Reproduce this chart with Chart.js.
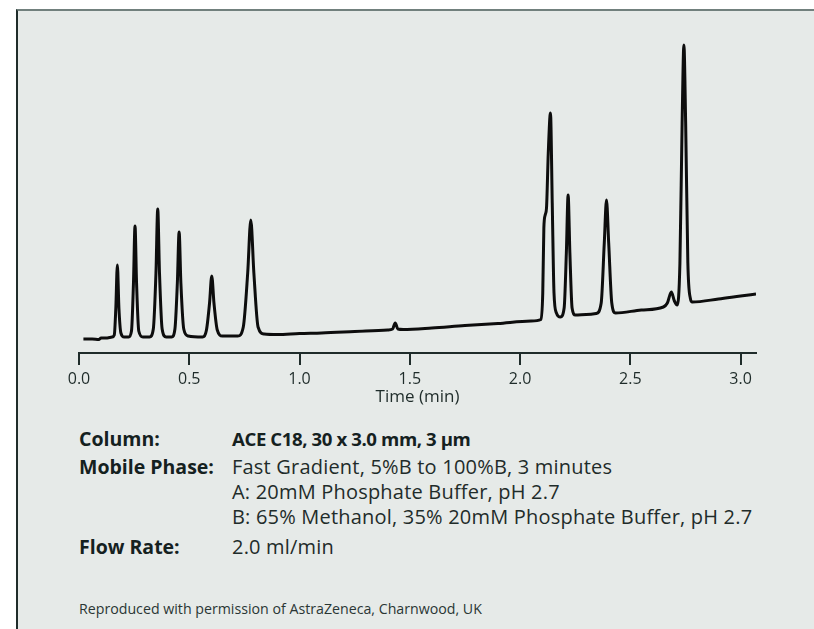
<!DOCTYPE html>
<html>
<head>
<meta charset="utf-8">
<script src="https://cdn.jsdelivr.net/npm/chart.js@4.4.0/dist/chart.umd.min.js"></script>
<style>
  html, body { margin: 0; padding: 0; background: #fff; }
  body { width: 814px; height: 629px; position: relative; overflow: hidden; font-family: "Open Sans", sans-serif; color: #1f2c2a; }
  #panel { position: absolute; left: 16px; top: 9px; right: 0; bottom: 0; background: #e6eae8;
           border-top: 2px solid #71807d; border-left: 2px solid #1f2c2a; }
  #chartBox { position: absolute; left: 0; top: 0; width: 814px; height: 413px; }
  .row { position: absolute; left: 79px; font-size: 20px; line-height: 25px; white-space: nowrap; letter-spacing: 0.2px; }
  .row b { position: absolute; left: 0; font-size: 19.5px; font-weight: 700; color: #15211f; letter-spacing: 0; }
  .row span { position: absolute; left: 153px; }
  .row span.val { font-size: 18.6px; font-weight: 700; color: #15211f; letter-spacing: -0.4px; }
  .note { position: absolute; left: 79px; top: 599px; font-size: 14.2px; white-space: nowrap; color: #2a3634; }
</style>
</head>
<body>
<div id="panel"></div>
<div id="chartBox"><canvas id="chrom" width="814" height="413"></canvas></div>

<div class="row" style="top:426px"><b>Column:</b><span class="val">ACE C18, 30 x 3.0 mm, 3 µm</span></div>
<div class="row" style="top:454px"><b>Mobile Phase:</b><span>Fast Gradient, 5%B to 100%B, 3 minutes</span></div>
<div class="row" style="top:479px"><span>A: 20mM Phosphate Buffer, pH 2.7</span></div>
<div class="row" style="top:504px"><span>B: 65% Methanol, 35% 20mM Phosphate Buffer, pH 2.7</span></div>
<div class="row" style="top:534px"><b>Flow Rate:</b><span>2.0 ml/min</span></div>
<div class="note">Reproduced with permission of AstraZeneca, Charnwood, UK</div>

<script>
// retention time (min) and detector signal
const times = [
  0.02, 0.06, 0.09, 0.10, 0.12, 0.15,
  0.160, 0.167, 0.174, 0.181, 0.190, 0.205,
  0.225, 0.238, 0.247, 0.254, 0.261, 0.271, 0.290,
  0.320, 0.337, 0.349, 0.357, 0.365, 0.377, 0.395,
  0.420, 0.435, 0.446, 0.454, 0.462, 0.475, 0.495,
  0.560, 0.578, 0.592, 0.602, 0.612, 0.627, 0.650,
  0.720, 0.745, 0.765, 0.779, 0.793, 0.812, 0.840,
  0.900, 1.000, 1.100, 1.250, 1.400,
  1.422, 1.434, 1.446, 1.470,
  1.600, 1.750, 1.900, 2.050, 2.095,
  2.103, 2.108, 2.114, 2.120, 2.128, 2.138, 2.146, 2.154, 2.165, 2.183,
  2.200, 2.210, 2.218, 2.226, 2.236, 2.251,
  2.300, 2.345, 2.368, 2.382, 2.392, 2.402, 2.416, 2.433,
  2.550, 2.650, 2.668, 2.686, 2.700, 2.713,
  2.725, 2.735, 2.743, 2.751, 2.761, 2.772, 2.781,
  2.900, 3.000, 3.070
];
const signal = [
  14, 14, 13.5, 15, 15, 16,
  18, 45, 88, 45, 20, 16,
  16, 22, 70, 127, 70, 22, 16,
  16, 24, 80, 144, 80, 24, 16,
  16, 24, 70, 121, 70, 24, 17,
  16, 23, 50, 77, 50, 23, 17,
  17, 26, 80, 133, 80, 26, 19,
  18.5, 19.5, 20, 21.5, 23,
  24, 30, 24, 23.5,
  25, 27.5, 29.5, 32, 33.5,
  60, 125, 138, 145, 200, 240, 150, 60, 40, 36,
  45, 100, 158, 100, 45, 38,
  38.5, 39.5, 50, 110, 153, 110, 50, 40,
  43, 46, 50, 61, 52, 48,
  90, 230, 308, 230, 90, 55, 51,
  54, 57, 59
];
const xTicks = [0, 0.5, 1.0, 1.5, 2.0, 2.5, 3.0];
const xTitle = 'Time (min)';

const points = times.map((t, i) => ({ x: t, y: signal[i] }));
const ink = '#1f2c2a';

new Chart(document.getElementById('chrom'), {
  type: 'line',
  data: {
    datasets: [{
      data: points,
      borderColor: '#0d0d0d',
      borderWidth: 3,
      pointRadius: 0,
      fill: false,
      cubicInterpolationMode: 'monotone'
    }]
  },
  options: {
    responsive: false,
    animation: false,
    layout: { padding: { left: 79, right: 58, top: 33, bottom: 0 } },
    plugins: { legend: { display: false }, tooltip: { enabled: false } },
    scales: {
      x: {
        type: 'linear',
        min: 0,
        max: 3.07,
        afterBuildTicks: (scale) => { scale.ticks = xTicks.map(v => ({ value: v })); },
        afterFit: (scale) => { scale.height = 60; },
        grid: { drawOnChartArea: false, drawTicks: true, tickLength: 12, color: ink, lineWidth: 2 },
        border: { display: true, color: ink, width: 2 },
        ticks: {
          padding: 5,
          color: ink,
          font: { family: 'Open Sans', size: 16 },
          callback: (v) => Number(v).toFixed(1),
          maxRotation: 0
        },
        title: {
          display: true,
          text: xTitle,
          color: ink,
          padding: { top: 0, bottom: 6 },
          font: { family: 'Open Sans', size: 17 }
        }
      },
      y: { display: false, min: 0, max: 320 }
    }
  }
});
</script>
</body>
</html>
